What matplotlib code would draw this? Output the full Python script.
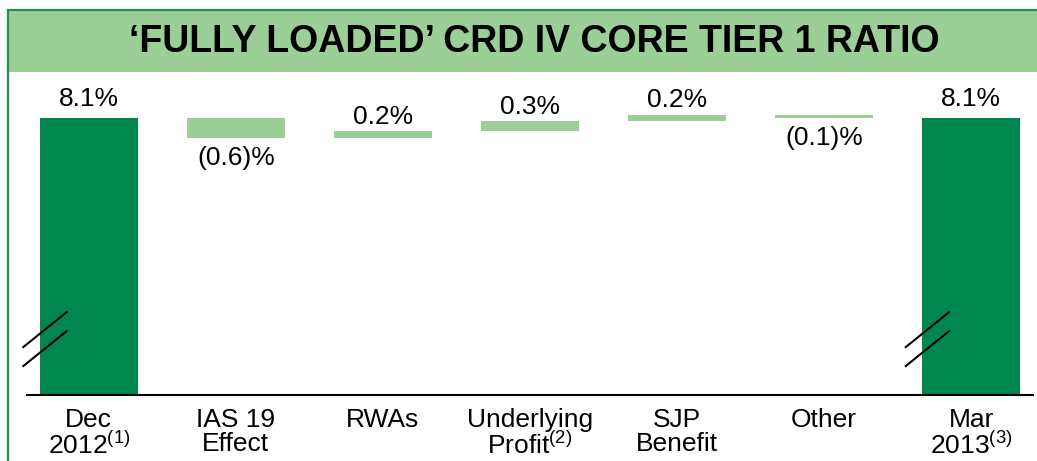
import numpy as np
import matplotlib
matplotlib.use("Agg")
import matplotlib.pyplot as plt
from matplotlib.patches import Rectangle

plt.rcParams['font.family'] = ['Liberation Sans', 'DejaVu Sans']
plt.rcParams['mathtext.fontset'] = 'custom'
plt.rcParams['mathtext.rm'] = 'Liberation Sans'
plt.rcParams['mathtext.it'] = 'Liberation Sans'

# data
categories = ["Dec\n2012$^{(1)}$", "IAS 19\nEffect", "RWAs", "Underlying\nProfit$^{(2)}$",
              "SJP\nBenefit", "Other", "Mar\n2013$^{(3)}$"]
values = [8.1, -0.6, 0.2, 0.3, 0.2, -0.1, 8.1]
is_total = [True, False, False, False, False, False, True]
title = "\u2018FULLY LOADED\u2019 CRD IV CORE TIER 1 RATIO"

DARK = "#00874f"
LIGHT = "#9ccf98"
BORDER = "#1f8f55"
W, H = 1037, 461
YMIN, YMAX = -0.22, 9.48
FS = 19

fig = plt.figure(figsize=(W / 100, H / 100), dpi=100)
fig.patch.set_facecolor("white")

# title band + frame
fig.patches.append(Rectangle((8 / W, 1 - 72 / H), 1.0, 62 / H, transform=fig.transFigure,
                             facecolor=LIGHT, edgecolor="none", zorder=0))
fig.patches.append(Rectangle((8 / W, -0.1), 1.1, 1.1 - 10 / H, transform=fig.transFigure,
                             facecolor="none", edgecolor=BORDER, lw=1.6, zorder=1))
fig.text(534 / W, 1 - 42 / H, title, ha="center", va="center",
         fontsize=27, fontweight="bold", color="black")

ax = fig.add_axes([27 / W, 1 - 395 / H, 1006 / W, 323 / H])
ax.set_xlim(-0.42, 6.42)
ax.set_ylim(YMIN, YMAX)
for s in ["left", "right", "top"]:
    ax.spines[s].set_visible(False)
ax.spines["bottom"].set_linewidth(1.5)
ax.spines["bottom"].set_color("black")
ax.set_xticks([])
ax.set_yticks([])
ax.patch.set_alpha(0)

run = 0.0
for i, v in enumerate(values):
    if is_total[i]:
        ax.bar(i, v - YMIN, bottom=YMIN, width=0.67, color=DARK, zorder=2)
        run = v
        ax.annotate(f"{v:.1f}%", (i, v), xytext=(0, 13.5), textcoords="offset points",
                    ha="center", va="center", fontsize=FS)
    else:
        ax.bar(i, v, bottom=run, width=0.67, color=LIGHT, zorder=2)
        if v >= 0:
            ax.annotate(f"{v:.1f}%", (i, run + v), xytext=(0, 10.5), textcoords="offset points",
                        ha="center", va="center", fontsize=FS)
        else:
            ax.annotate(f"({abs(v):.1f})%", (i, run + v), xytext=(0, -14.5),
                        textcoords="offset points", ha="center", va="center", fontsize=FS)
        run += v

    ax.annotate(categories[i], (i, 0), xycoords=("data", "axes fraction"),
                xytext=(0, -9.5), textcoords="offset points", ha="center", va="top",
                fontsize=FS, linespacing=0.98, annotation_clip=False)

# axis break marks on the total bars
for i in [0, 6]:
    for dy in [0.0, -0.57]:
        ax.plot([i - 0.445, i - 0.15], [1.22 + dy, 2.27 + dy], color="black",
                lw=1.5, zorder=3, clip_on=False)

fig.savefig("out.png", dpi=100)
